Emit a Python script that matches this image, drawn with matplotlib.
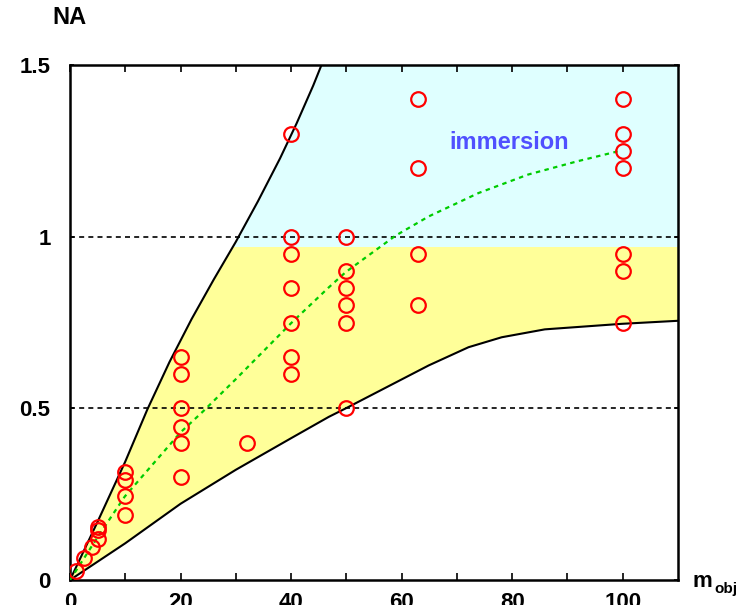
import numpy as np
import matplotlib
matplotlib.use("Agg")
import matplotlib.pyplot as plt

plt.rcParams['font.family'] = ['Liberation Sans', 'DejaVu Sans']
plt.rcParams['font.weight'] = 'bold'

# measured objectives (magnification, numerical aperture)
m_pts = [1, 2.5, 4, 5, 5, 5,
         10, 10, 10, 10,
         20, 20, 20, 20, 20, 20,
         32,
         40, 40, 40, 40, 40, 40, 40,
         50, 50, 50, 50, 50, 50,
         63, 63, 63, 63,
         100, 100, 100, 100, 100, 100, 100]
na_pts = [0.025, 0.065, 0.095, 0.12, 0.145, 0.155,
          0.19, 0.245, 0.29, 0.315,
          0.3, 0.4, 0.445, 0.5, 0.6, 0.65,
          0.4,
          0.6, 0.65, 0.75, 0.85, 0.95, 1.0, 1.3,
          0.5, 0.75, 0.8, 0.85, 0.9, 1.0,
          0.8, 0.95, 1.2, 1.4,
          0.75, 0.9, 0.95, 1.2, 1.25, 1.3, 1.4]

# upper limit curve
up_m = [0, 5, 10, 14, 18, 22, 26, 30, 34, 38, 41, 44, 46]
up_na = [0, 0.17, 0.345, 0.497, 0.635, 0.76, 0.875, 0.985, 1.103, 1.228,
         1.33, 1.44, 1.52]

# lower limit curve
lo_m = [0, 10, 20, 30, 40, 46.8, 49.9, 58.9, 64.9, 72.1, 78.1, 85.9,
        99.7, 110]
lo_na = [0, 0.107, 0.222, 0.321, 0.413, 0.475, 0.5, 0.575, 0.625, 0.678,
         0.707, 0.73, 0.746, 0.755]

# trend (green dotted)
tr_m = [0, 5, 9.9, 20, 24, 30, 40, 46.8, 49.9, 58.9, 64.9, 73.9, 82.9,
        91.9, 99.5]
tr_na = [0, 0.125, 0.243, 0.43, 0.49, 0.585, 0.748, 0.852, 0.897, 1.003,
         1.059, 1.127, 1.181, 1.22, 1.25]

na_split = 0.97   # boundary between dry and immersion regions
xmax = 110
ymax = 1.5

fig = plt.figure(figsize=(7.54, 6.05), dpi=100)
ax = fig.add_axes([70 / 754, 25 / 605, 608 / 754, 515 / 605])

# yellow region: between the curves, below na_split
up_m_a = np.array(up_m)
up_na_a = np.array(up_na)
m_cross = np.interp(na_split, up_na_a, up_m_a)
below = up_na_a < na_split
poly_x = list(up_m_a[below]) + [m_cross, xmax] + list(lo_m[::-1])
poly_y = list(up_na_a[below]) + [na_split, na_split] + list(lo_na[::-1])
ax.fill(poly_x, poly_y, color='#ffff99', lw=0, zorder=1)

# cyan region: immersion
above = up_na_a > na_split
cx = [m_cross] + list(up_m_a[above]) + [xmax, xmax]
cy = [na_split] + list(up_na_a[above]) + [ymax, na_split]
ax.fill(cx, cy, color='#dfffff', lw=0, zorder=1)

ax.plot(up_m, up_na, color='black', lw=1.5, zorder=3)
ax.plot(lo_m, lo_na, color='black', lw=1.5, zorder=3)

for h in [0.5, 1.0]:
    ax.axhline(h, color='black', lw=1.2, ls=(0, (3, 2.5)), zorder=2)

ax.plot(tr_m, tr_na, color='#00cc00', lw=1.6, ls=(0, (2, 2)), zorder=4)

ax.plot(m_pts, na_pts, 'o', ms=10.5, mfc='none', mec='#ff0000', mew=1.6,
        zorder=5)

ax.text(79.5, 1.255, 'immersion', color='#5050ff', fontsize=17,
        fontweight='bold', ha='center', va='baseline', zorder=6)

ax.set_xlim(0, xmax)
ax.set_ylim(0, ymax)
ax.set_xticks([0, 20, 40, 60, 80, 100])
ax.set_xticks([10, 30, 50, 70, 90], minor=True)
ax.set_yticks([0, 0.5, 1, 1.5])
ax.set_yticklabels(['0', '0.5', '1', '1.5'])
ax.tick_params(axis='x', which='both', direction='in', top=True, length=5,
               width=1.2, labelsize=16, pad=9)
ax.tick_params(axis='y', direction='in', right=True, length=3, width=1.2,
               labelsize=16, pad=14)
for lab in ax.get_xticklabels() + ax.get_yticklabels():
    lab.set_fontweight('bold')
for sp in ax.spines.values():
    sp.set_linewidth(1.8)

fig.text(69 / 754, 1 - 17 / 605, 'NA', fontsize=17, fontweight='bold',
         ha='center', va='center')
fig.text(693 / 754, 18 / 605, 'm', fontsize=16, fontweight='bold',
         ha='left', va='baseline')
fig.text(714 / 754, 12 / 605, 'obj', fontsize=11, fontweight='bold',
         ha='left', va='baseline')

fig.savefig('out.png', dpi=100)
